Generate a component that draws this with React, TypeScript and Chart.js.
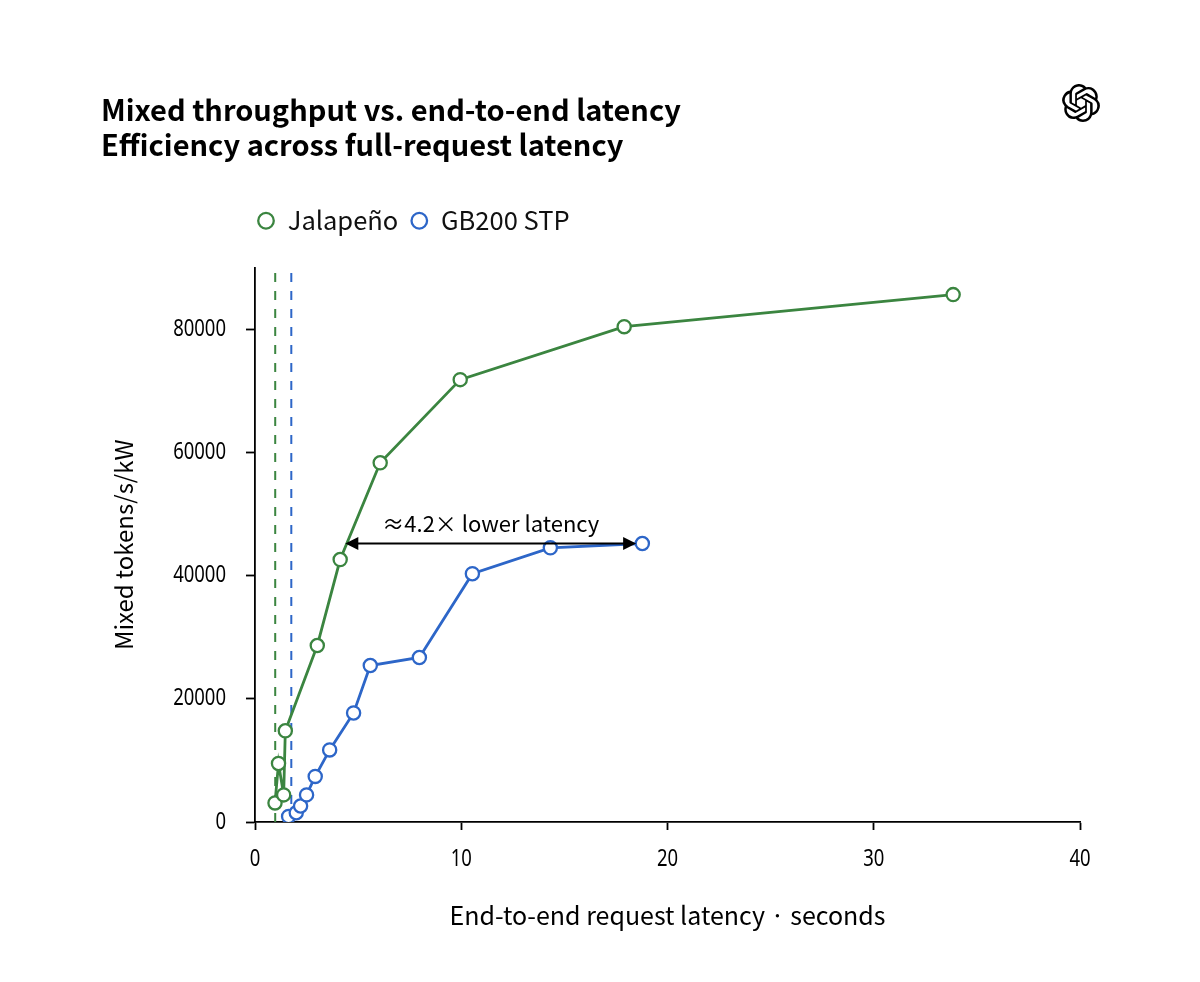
import React, { useEffect, useRef } from 'react';
import { Chart, registerables } from 'chart.js';

Chart.register(...registerables);

// ---- data ----
const TITLE_LINES = ['Mixed throughput vs. end-to-end latency', 'Efficiency across full-request latency'];
const SERIES_NAMES = ['Jalapeño', 'GB200 STP'];
const JALAPENO_X = [0.97, 1.14, 1.39, 1.47, 3.02, 4.13, 6.07, 9.95, 17.9, 33.85];
const JALAPENO_Y = [3100, 9500, 4400, 14800, 28650, 42600, 58300, 71800, 80400, 85600];
const GB200_X = [1.63, 2.0, 2.21, 2.5, 2.92, 3.62, 4.78, 5.59, 7.97, 10.54, 14.32, 18.78];
const GB200_Y = [900, 1500, 2600, 4400, 7400, 11700, 17700, 25400, 26700, 40300, 44500, 45200];
const REF_LINES_X = [0.98, 1.76];
const X_TICKS = [0, 10, 20, 30, 40];
const Y_TICKS = [0, 20000, 40000, 60000, 80000];
const ARROW_X = [4.38, 18.48];
const ARROW_Y = [45200];
const ANNOTATION_TEXT = ['≈4.2× lower latency'];
const X_TITLE = 'End-to-end request latency · seconds';
const Y_TITLE = 'Mixed tokens/s/kW';

const GREEN = '#3b8540';
const BLUE = '#2d66c8';
const CJK = '"Noto Sans CJK JP", "Noto Sans", sans-serif';
const TICK_FAMILY = '"Noto Sans", sans-serif';
const TICK_SX = 0.79;
const LEGEND_GAP = 24;

const legendTweak = {
  id: 'legendTweak',
  beforeLayout(chart: any) {
    const lg: any = chart.legend;
    if (lg && !lg._patched) {
      const orig = lg.fit.bind(lg);
      lg.fit = () => {
        orig();
        lg.height += LEGEND_GAP;
      };
      lg._patched = true;
    }
  },
  afterLayout(chart: any) {
    const lg: any = chart.legend;
    if (!lg) return;
    const pad = lg.options.labels.padding;
    const w = lg.right - lg.left;
    lg.left = chart.chartArea.left + 2 - pad;
    lg.right = lg.left + w;
  },
};

// draw tick labels horizontally condensed (narrow face)
const condenseTicks = {
  id: 'condenseTicks',
  afterLayout(chart: any) {
    for (const id of ['x', 'y']) {
      const s: any = chart.scales[id];
      if (s && !s._condensed) {
        const orig = s.drawLabels.bind(s);
        s.drawLabels = (area: any) => {
          const ctx: any = s.ctx;
          const proto = CanvasRenderingContext2D.prototype.fillText;
          ctx.fillText = function (text: string, x: number, y: number) {
            this.save();
            this.translate(x, y);
            this.scale(TICK_SX, 1);
            proto.call(this, text, 0, 0);
            this.restore();
          };
          try {
            orig(area);
          } finally {
            delete ctx.fillText;
          }
        };
        s._condensed = true;
      }
    }
  },
};

const arrowPlugin = {
  id: 'arrowAnno',
  afterDatasetsDraw(chart: any) {
    const { ctx, scales } = chart;
    const xs = scales.x;
    const ys = scales.y;
    const x0 = xs.getPixelForValue(ARROW_X[0]);
    const x1 = xs.getPixelForValue(ARROW_X[1]);
    const yy = ys.getPixelForValue(ARROW_Y[0]);
    const hl = 13;
    const hw = 6.5;
    ctx.save();
    ctx.strokeStyle = '#000';
    ctx.fillStyle = '#000';
    ctx.lineWidth = 1.8;
    ctx.beginPath();
    ctx.moveTo(x0 + hl - 1, yy);
    ctx.lineTo(x1 - hl + 1, yy);
    ctx.stroke();
    ctx.beginPath();
    ctx.moveTo(x0, yy);
    ctx.lineTo(x0 + hl, yy - hw);
    ctx.lineTo(x0 + hl, yy + hw);
    ctx.closePath();
    ctx.fill();
    ctx.beginPath();
    ctx.moveTo(x1, yy);
    ctx.lineTo(x1 - hl, yy - hw);
    ctx.lineTo(x1 - hl, yy + hw);
    ctx.closePath();
    ctx.fill();
    ctx.font = `22px ${CJK}`;
    ctx.textAlign = 'center';
    ctx.textBaseline = 'alphabetic';
    ctx.fillText(ANNOTATION_TEXT[0], (x0 + x1) / 2, yy - 12);
    ctx.restore();
  },
};

const tickFont = { family: TICK_FAMILY, size: 23.4 };

function ChartView() {
  const ref = useRef<HTMLCanvasElement | null>(null);
  useEffect(() => {
    if (!ref.current) return;
    const mkSeries = (xs: number[], ys: number[]) => xs.map((x, i) => ({ x, y: ys[i] }));
    const seriesStyle = (color: string) => ({
      borderColor: color,
      backgroundColor: '#ffffff',
      borderWidth: 2.8,
      pointRadius: 6.6,
      pointBorderWidth: 2.3,
      pointBackgroundColor: '#ffffff',
      pointBorderColor: color,
      pointStyle: 'circle',
      fill: false,
      tension: 0,
    });
    const dashStyle = (color: string) => ({
      borderColor: color,
      borderWidth: 2,
      borderDash: [9, 9],
      pointRadius: 0,
      fill: false,
    });
    const chart = new Chart(ref.current, {
      type: 'line',
      data: {
        datasets: [
          { label: SERIES_NAMES[0], data: mkSeries(JALAPENO_X, JALAPENO_Y), ...seriesStyle(GREEN) },
          { label: SERIES_NAMES[1], data: mkSeries(GB200_X, GB200_Y), ...seriesStyle(BLUE) },
          { label: '', data: [{ x: REF_LINES_X[0], y: 0 }, { x: REF_LINES_X[0], y: 90000 }], ...dashStyle(GREEN) },
          { label: '', data: [{ x: REF_LINES_X[1], y: 0 }, { x: REF_LINES_X[1], y: 90000 }], ...dashStyle(BLUE) },
        ],
      },
      options: {
        responsive: false,
        animation: false,
        layout: { padding: { left: 101, right: 120, top: 0, bottom: 40 } },
        plugins: {
          title: {
            display: true,
            text: TITLE_LINES,
            align: 'start',
            color: '#000',
            font: { family: CJK, size: 29, weight: 'bold', lineHeight: 35 / 29 },
            padding: { top: 92.5, bottom: 33.5 },
          },
          legend: {
            display: true,
            position: 'top',
            align: 'start',
            labels: {
              usePointStyle: true,
              pointStyle: 'circle',
              boxHeight: 11,
              boxWidth: 18,
              padding: 12,
              color: '#111',
              font: { family: CJK, size: 25.5 },
              filter: (item: any) => item.datasetIndex < 2,
            },
          },
          tooltip: { enabled: false },
        },
        scales: {
          x: {
            type: 'linear',
            min: X_TICKS[0],
            max: X_TICKS[X_TICKS.length - 1],
            afterFit: (s: any) => {
              s.height = 120;
            },
            afterBuildTicks: (s: any) => {
              s.ticks = X_TICKS.map((v) => ({ value: v }));
            },
            ticks: {
              stepSize: 10,
              includeBounds: false,
              maxRotation: 0,
              color: '#000',
              padding: 15,
              font: tickFont,
              callback: (v: any) => String(v),
            },
            grid: {
              display: true,
              drawOnChartArea: false,
              drawTicks: true,
              tickLength: 8,
              tickColor: '#000',
              tickWidth: 1.8,
              color: '#000',
            },
            border: { display: true, color: '#000', width: 1.8 },
            title: {
              display: true,
              text: X_TITLE,
              color: '#000',
              font: { family: CJK, size: 25, lineHeight: 1.2 },
              padding: { top: 0, bottom: 11.5 },
            },
          },
          y: {
            type: 'linear',
            min: 0,
            max: 90000,
            afterFit: (s: any) => {
              s.width = 154;
            },
            afterBuildTicks: (s: any) => {
              s.ticks = Y_TICKS.map((v) => ({ value: v }));
            },
            ticks: {
              stepSize: 20000,
              includeBounds: false,
              color: '#000',
              padding: 20,
              font: tickFont,
              callback: (v: any) => String(v),
            },
            grid: {
              display: true,
              drawOnChartArea: false,
              drawTicks: true,
              tickLength: 9,
              tickColor: '#000',
              tickWidth: 1.8,
              color: '#000',
            },
            border: { display: true, color: '#000', width: 1.8 },
            title: {
              display: true,
              text: Y_TITLE,
              color: '#000',
              font: { family: CJK, size: 24, lineHeight: 1.2 },
              padding: { top: 8, bottom: 0 },
            },
          },
        },
      } as any,
      plugins: [legendTweak, condenseTicks, arrowPlugin],
    });
    return () => chart.destroy();
  }, []);
  return <canvas ref={ref} width={1200} height={982} style={{ display: 'block', width: 1200, height: 982 }} />;
}

function Logo() {
  return (
    <svg
      viewBox="0 0 24 24"
      width={38}
      height={38}
      style={{ position: 'absolute', left: 1062, top: 84 }}
    >
      <path
        fill="#000"
        d="M22.2819 9.8211a5.9847 5.9847 0 0 0-.5157-4.9108 6.0462 6.0462 0 0 0-6.5098-2.9A6.0651 6.0651 0 0 0 4.9807 4.1818a5.9847 5.9847 0 0 0-3.9977 2.9 6.0462 6.0462 0 0 0 .7427 7.0966 5.98 5.98 0 0 0 .511 4.9107 6.051 6.051 0 0 0 6.5146 2.9001A5.9847 5.9847 0 0 0 13.2599 24a6.0557 6.0557 0 0 0 5.7718-4.2058 5.9894 5.9894 0 0 0 3.9977-2.9001 6.0557 6.0557 0 0 0-.7475-7.0729zm-9.022 12.6081a4.4755 4.4755 0 0 1-2.8764-1.0408l.1419-.0804 4.7783-2.7582a.7948.7948 0 0 0 .3927-.6813v-6.7369l2.02 1.1686a.071.071 0 0 1 .038.052v5.5826a4.504 4.504 0 0 1-4.4945 4.4944zm-9.6607-4.1254a4.4708 4.4708 0 0 1-.5346-3.0137l.142.0852 4.783 2.7582a.7712.7712 0 0 0 .7806 0l5.8428-3.3685v2.3324a.0804.0804 0 0 1-.0332.0615L9.74 19.9502a4.4992 4.4992 0 0 1-6.1408-1.6464zM2.3408 7.8956a4.485 4.485 0 0 1 2.3655-1.9728V11.6a.7664.7664 0 0 0 .3879.6765l5.8144 3.3543-2.0201 1.1685a.0757.0757 0 0 1-.071 0l-4.8303-2.7865A4.504 4.504 0 0 1 2.3408 7.872zm16.5963 3.8558L13.1038 8.364 15.1192 7.2a.0757.0757 0 0 1 .071 0l4.8303 2.7913a4.4944 4.4944 0 0 1-.6765 8.1042v-5.6772a.79.79 0 0 0-.407-.667zm2.0107-3.0231l-.142-.0852-4.7735-2.7818a.7759.7759 0 0 0-.7854 0L9.409 9.2297V6.8974a.0662.0662 0 0 1 .0284-.0615l4.8303-2.7866a4.4992 4.4992 0 0 1 6.6802 4.66zM8.3065 12.863l-2.02-1.1638a.0804.0804 0 0 1-.038-.0567V6.0742a4.4992 4.4992 0 0 1 7.3757-3.4537l-.142.0805L8.704 5.459a.7948.7948 0 0 0-.3927.6813zm1.0976-2.3654l2.602-1.4998 2.6069 1.4998v2.9994l-2.5974 1.4997-2.6067-1.4997Z"
      />
    </svg>
  );
}

export default function App() {
  return (
    <div style={{ position: 'absolute', left: 0, top: 0, width: 1200, height: 982, background: '#fff' }}>
      <ChartView />
      <Logo />
    </div>
  );
}
